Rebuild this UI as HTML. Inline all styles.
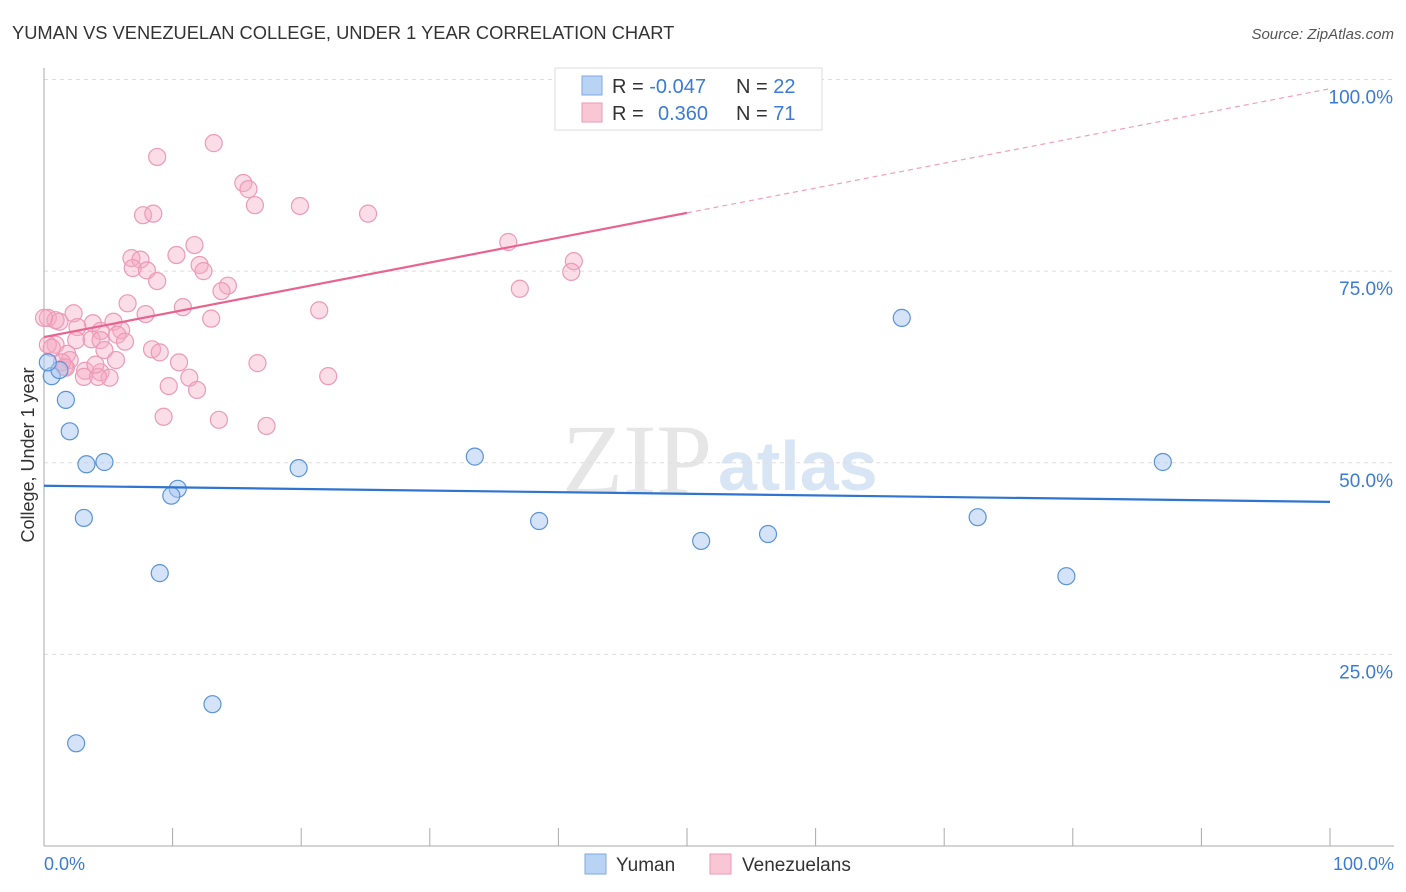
<!DOCTYPE html>
<html><head><meta charset="utf-8">
<style>
body{margin:0;background:#fff;font-family:"Liberation Sans",sans-serif;}
svg{display:block}
</style></head>
<body>
<svg id="chart" width="1406" height="892" xmlns="http://www.w3.org/2000/svg">
<text x="12" y="39" font-size="18.3" fill="#333">YUMAN VS VENEZUELAN COLLEGE, UNDER 1 YEAR CORRELATION CHART</text>
<text x="1394" y="39" font-size="15" fill="#555" font-style="italic" text-anchor="end">Source: ZipAtlas.com</text>
<text x="712" y="493" font-size="100" fill="#e6e6e6" font-family="Liberation Serif,serif" text-anchor="end">ZIP</text>
<text x="718" y="490" font-size="70" fill="#d8e5f4" font-weight="bold">atlas</text>
<g id="grid"></g>
<g id="marks"></g>
<text x="34" y="455" font-size="18" fill="#333" transform="rotate(-90 34 455)" text-anchor="middle">College, Under 1 year</text>
<g>
<rect x="555" y="68" width="267" height="62" fill="#fff" stroke="#ddd"/>
<rect x="582" y="76" width="20" height="19" fill="#b9d3f5" stroke="#7ea9e0"/>
<rect x="582" y="103" width="20" height="19" fill="#f9c6d6" stroke="#ee9ab5"/>
<text x="612" y="93" font-size="20" fill="#333">R = <tspan fill="#3a7bd5">-0.047</tspan></text>
<text x="736" y="93" font-size="20" fill="#333">N = <tspan fill="#3a7bd5">22</tspan></text>
<text x="612" y="120" font-size="20" fill="#333">R = <tspan fill="#3a7bd5" x="658">0.360</tspan></text>
<text x="736" y="120" font-size="20" fill="#333">N = <tspan fill="#3a7bd5"> 71</tspan></text>
</g>
<g>
<rect x="585" y="854" width="21" height="20" fill="#b9d3f5" stroke="#7ea9e0"/>
<text x="616" y="871" font-size="19" fill="#333">Yuman</text>
<rect x="710" y="854" width="21" height="20" fill="#f9c6d6" stroke="#ee9ab5"/>
<text x="742" y="871" font-size="19" fill="#333">Venezuelans</text>
</g>
</svg>
<script>
const yTicks=[25,50,75,100];
const yTickLabels=["25.0%","50.0%","75.0%","100.0%"];
const xTickLabels=["0.0%","100.0%"];
const yumanX=[66.7,0.6,1.2,0.3,1.7,2.0,3.3,4.7,19.8,33.5,87.0,10.4,9.9,3.1,38.5,72.6,56.3,51.1,9.0,79.5,13.1,2.5];
const yumanY=[68.9,61.3,62.1,63.1,58.2,54.1,49.8,50.1,49.3,50.8,50.1,46.6,45.7,42.8,42.4,42.9,40.7,39.8,35.6,35.2,18.5,13.4];
const venX=[13.2,8.8,15.5,15.9,7.7,8.5,16.4,19.9,25.2,11.7,36.1,6.8,7.5,10.3,6.9,8.0,12.1,12.4,8.8,41.2,41.0,37.0,14.3,13.8,6.5,10.8,21.4,7.9,13.0,2.3,0.3,1.2,3.8,2.6,5.4,4.4,6.0,5.7,2.5,3.7,4.4,6.3,0.9,0.3,0.6,4.7,8.4,9.0,1.8,2.0,1.6,3.2,10.5,16.6,5.6,22.1,4.4,3.1,5.1,4.2,11.3,9.7,11.9,9.3,13.6,17.3,1.7,0.9,0,4.0,1.4];
const venY=[91.7,89.9,86.5,85.7,82.3,82.5,83.6,83.5,82.5,78.4,78.8,76.7,76.5,77.1,75.4,75.1,75.8,75.0,73.7,76.3,74.9,72.7,73.1,72.4,70.8,70.3,69.9,69.4,68.8,69.5,68.9,68.4,68.2,67.7,68.4,67.2,67.3,66.7,66.0,66.1,66.0,65.8,65.4,65.4,65.0,64.7,64.8,64.4,64.2,63.4,62.5,62.0,63.1,63.0,63.4,61.3,61.8,61.2,61.1,61.2,61.1,60.0,59.5,56.0,55.6,54.8,62.4,68.6,68.9,62.8,63.1];
const yumanTrend=[47.0,44.9];
const venTrend=[66.4,98.8];

const NS="http://www.w3.org/2000/svg";
const X0=44,X1=1330,Y0=846,Y100=79.5;
const sx=v=>X0+(X1-X0)*v/100;
const sy=v=>Y0-(Y0-Y100)*v/100;
function mk(tag,attrs,parent){const e=document.createElementNS(NS,tag);for(const k in attrs)e.setAttribute(k,attrs[k]);parent.appendChild(e);return e;}
const grid=document.getElementById('grid'),marks=document.getElementById('marks');
yTicks.forEach((t,i)=>{
  const l=mk('line',{x1:X0,x2:1394,y1:sy(t),y2:sy(t),stroke:'#ddd','stroke-dasharray':'4 4'},grid);
  
  
  const tx=mk('text',{x:1393,y:sy(t)+24,'font-size':19,fill:'#3a7bd5','text-anchor':'end'},grid);
  tx.textContent=yTickLabels[i];
  
  
});
let ax=mk('line',{x1:X0,x2:X0,y1:68,y2:Y0,stroke:'#aaa'},grid);


ax=mk('line',{x1:X0,x2:1394,y1:Y0,y2:Y0,stroke:'#aaa'},grid);


for(let i=1;i<=10;i++){
  const t=mk('line',{x1:sx(i*10),x2:sx(i*10),y1:Y0-18,y2:Y0,stroke:'#aaa'},grid);
  
  
}
[[0,'start',44],[100,'end',1394]].forEach((d,i)=>{
  const tx=mk('text',{x:d[2],y:870,'font-size':18,fill:'#3a7bd5','text-anchor':d[1]},grid);
  tx.textContent=xTickLabels[i];
  
  
});
venX.forEach((v,i)=>{
  const c=mk('circle',{cx:sx(v),cy:sy(venY[i]),r:8.5,fill:'rgba(246,170,196,0.4)',stroke:'#ec9ab6','stroke-width':1.2},marks);
  
  
});
yumanX.forEach((v,i)=>{
  const c=mk('circle',{cx:sx(v),cy:sy(yumanY[i]),r:8.5,fill:'rgba(170,200,240,0.5)',stroke:'#5b93d8','stroke-width':1.2},marks);
  
  
});
let tl=mk('line',{x1:sx(0),y1:sy(yumanTrend[0]),x2:sx(100),y2:sy(yumanTrend[1]),stroke:'#2f74d0','stroke-width':2.2},marks);


const vy=x=>venTrend[0]+(venTrend[1]-venTrend[0])*x/100;
tl=mk('line',{x1:sx(0),y1:sy(vy(0)),x2:sx(50),y2:sy(vy(50)),stroke:'#e8648f','stroke-width':2.2},marks);


tl=mk('line',{x1:sx(50),y1:sy(vy(50)),x2:sx(100),y2:sy(vy(100)),stroke:'#f0a0b8','stroke-width':1.2,'stroke-dasharray':'5 4'},marks);


</script>
</body></html>
